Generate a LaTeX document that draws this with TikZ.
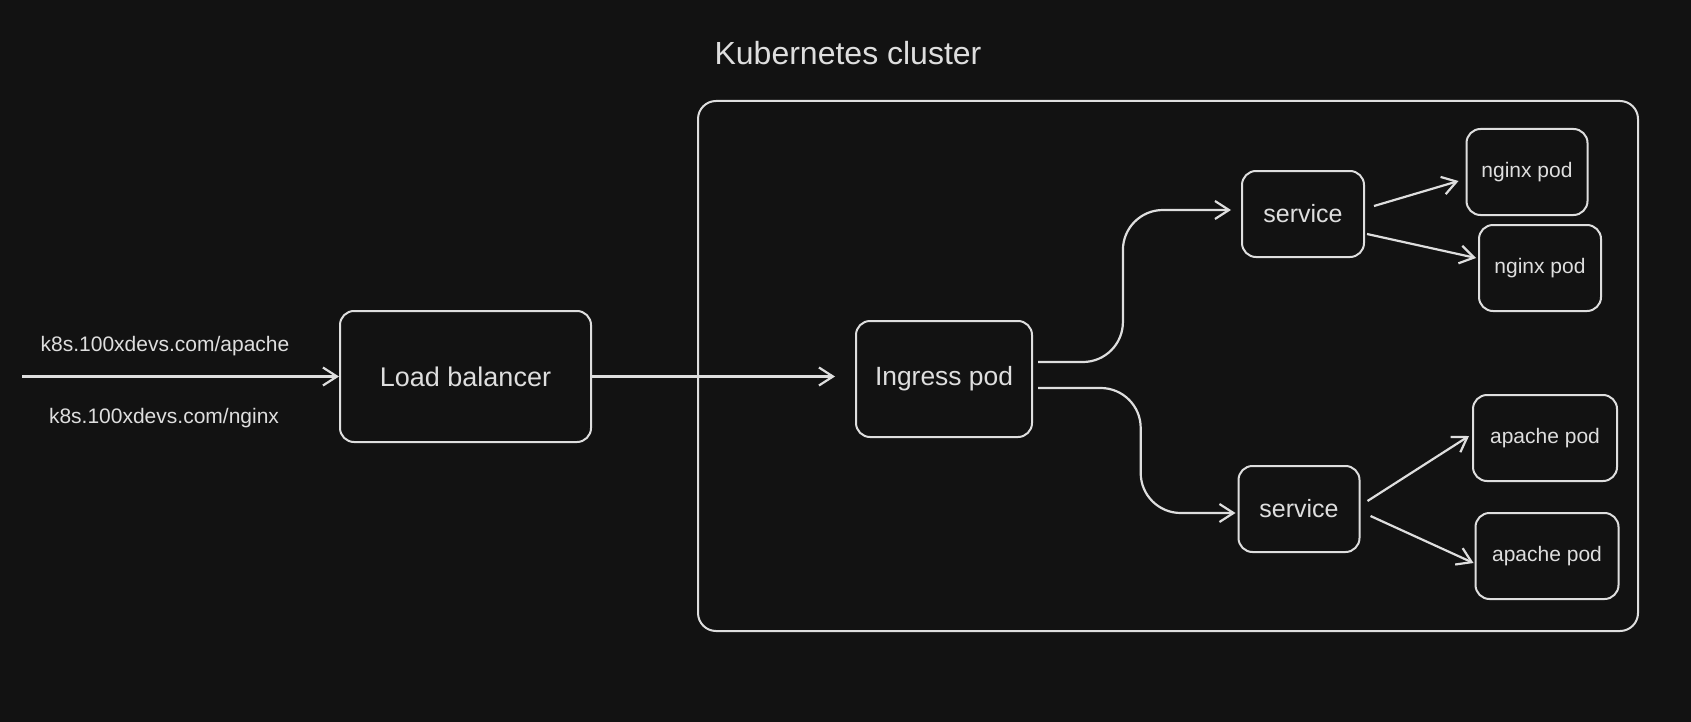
\documentclass[tikz,border=0pt]{standalone}
\usepackage{fontspec}
\setmainfont{Liberation Sans}
\usetikzlibrary{arrows.meta,calc}

\definecolor{bg}{HTML}{121212}
\definecolor{ink}{HTML}{DEDEDE}

\begin{document}
\begin{tikzpicture}[x=0.5pt, y=-0.5pt,
    box/.style={draw=ink, text=ink, line width=1pt, rounded corners=7pt, inner sep=0pt, font=\fontsize{12.5}{15}\selectfont},
    pod/.style={box, minimum height=43pt, font=\fontsize{10.5}{13}\selectfont},
    lbl/.style={text=ink, inner sep=0pt},
    arr/.style={draw=ink, line width=1.1pt, -{Straight Barb[length=7pt,width=9pt]}}]
  \fill[bg] (0,0) rectangle (1691,722);
  \useasboundingbox (0,0) rectangle (1691,722);

  % cluster frame and title
  \node[box, rounded corners=9pt, minimum width=470pt, minimum height=265pt] (cluster) at (1168,366) {};
  \node[lbl, font=\fontsize{16}{19}\selectfont] (title) at (848,53) {Kubernetes cluster};

  \node[box, minimum width=125.5pt, minimum height=65.5pt, font=\fontsize{13.5}{16}\selectfont] (lb) at (465.5,376.5) {Load balancer};
  \node[box, minimum width=88pt, minimum height=58pt, font=\fontsize{13.2}{16}\selectfont] (ingress) at (944,379) {Ingress pod};
  \node[box, minimum width=61pt, minimum height=43pt] (svc1) at (1303,214) {service};
  \node[box, minimum width=60.5pt, minimum height=43pt] (svc2) at (1299,509) {service};

  \foreach \name/\x/\y/\w/\txt in {nginx1/1527/172/60.5/nginx pod, nginx2/1540/268/61/nginx pod,
                                   apache1/1545/438/72/apache pod, apache2/1547/556/71.5/apache pod} {
    \node[pod, minimum width=\w pt] (\name) at (\x,\y) {\txt};
  }

  \node[lbl, font=\fontsize{10.5}{12}\selectfont] (url1) at (165,346) {k8s.100xdevs.com/apache};
  \node[lbl, font=\fontsize{10.5}{12}\selectfont] (url2) at (164,418) {k8s.100xdevs.com/nginx};

  \coordinate (in) at (22,376.5);
  \draw[arr] (in) -- (lb.west);
  \draw[arr, shorten >=10pt] (lb.east) -- (lb.east -| ingress.west);

  % ingress routes
  \coordinate (up0) at ([shift={(5,-17)}]ingress.east);
  \coordinate (up1) at ([shift={(-10,-4)}]svc1.west);
  \coordinate (upx) at ($(up0)!0.44!(up1)$);
  \coordinate (dn0) at ([shift={(5,9)}]ingress.east);
  \coordinate (dn1) at ([shift={(-2,4)}]svc2.west);
  \coordinate (dnx) at ($(dn0)!0.52!(dn1)$);
  \draw[arr, rounded corners=20pt] (up0) -| (upx |- up1) -- (up1);
  \draw[arr, rounded corners=20pt] (dn0) -| (dnx |- dn1) -- (dn1);

  \draw[arr] ([shift={(9,-8)}]svc1.east) -- ([shift={(-7,9)}]nginx1.west);
  \draw[arr] ([shift={(2,20)}]svc1.east) -- ([shift={(-2,-10)}]nginx2.west);
  \draw[arr] ([shift={(7,-8)}]svc2.east) -- ([shift={(-3,-2)}]apache1.west);
  \draw[arr] ([shift={(10,7)}]svc2.east) -- ([shift={(-1,7)}]apache2.west);
\end{tikzpicture}
\end{document}
